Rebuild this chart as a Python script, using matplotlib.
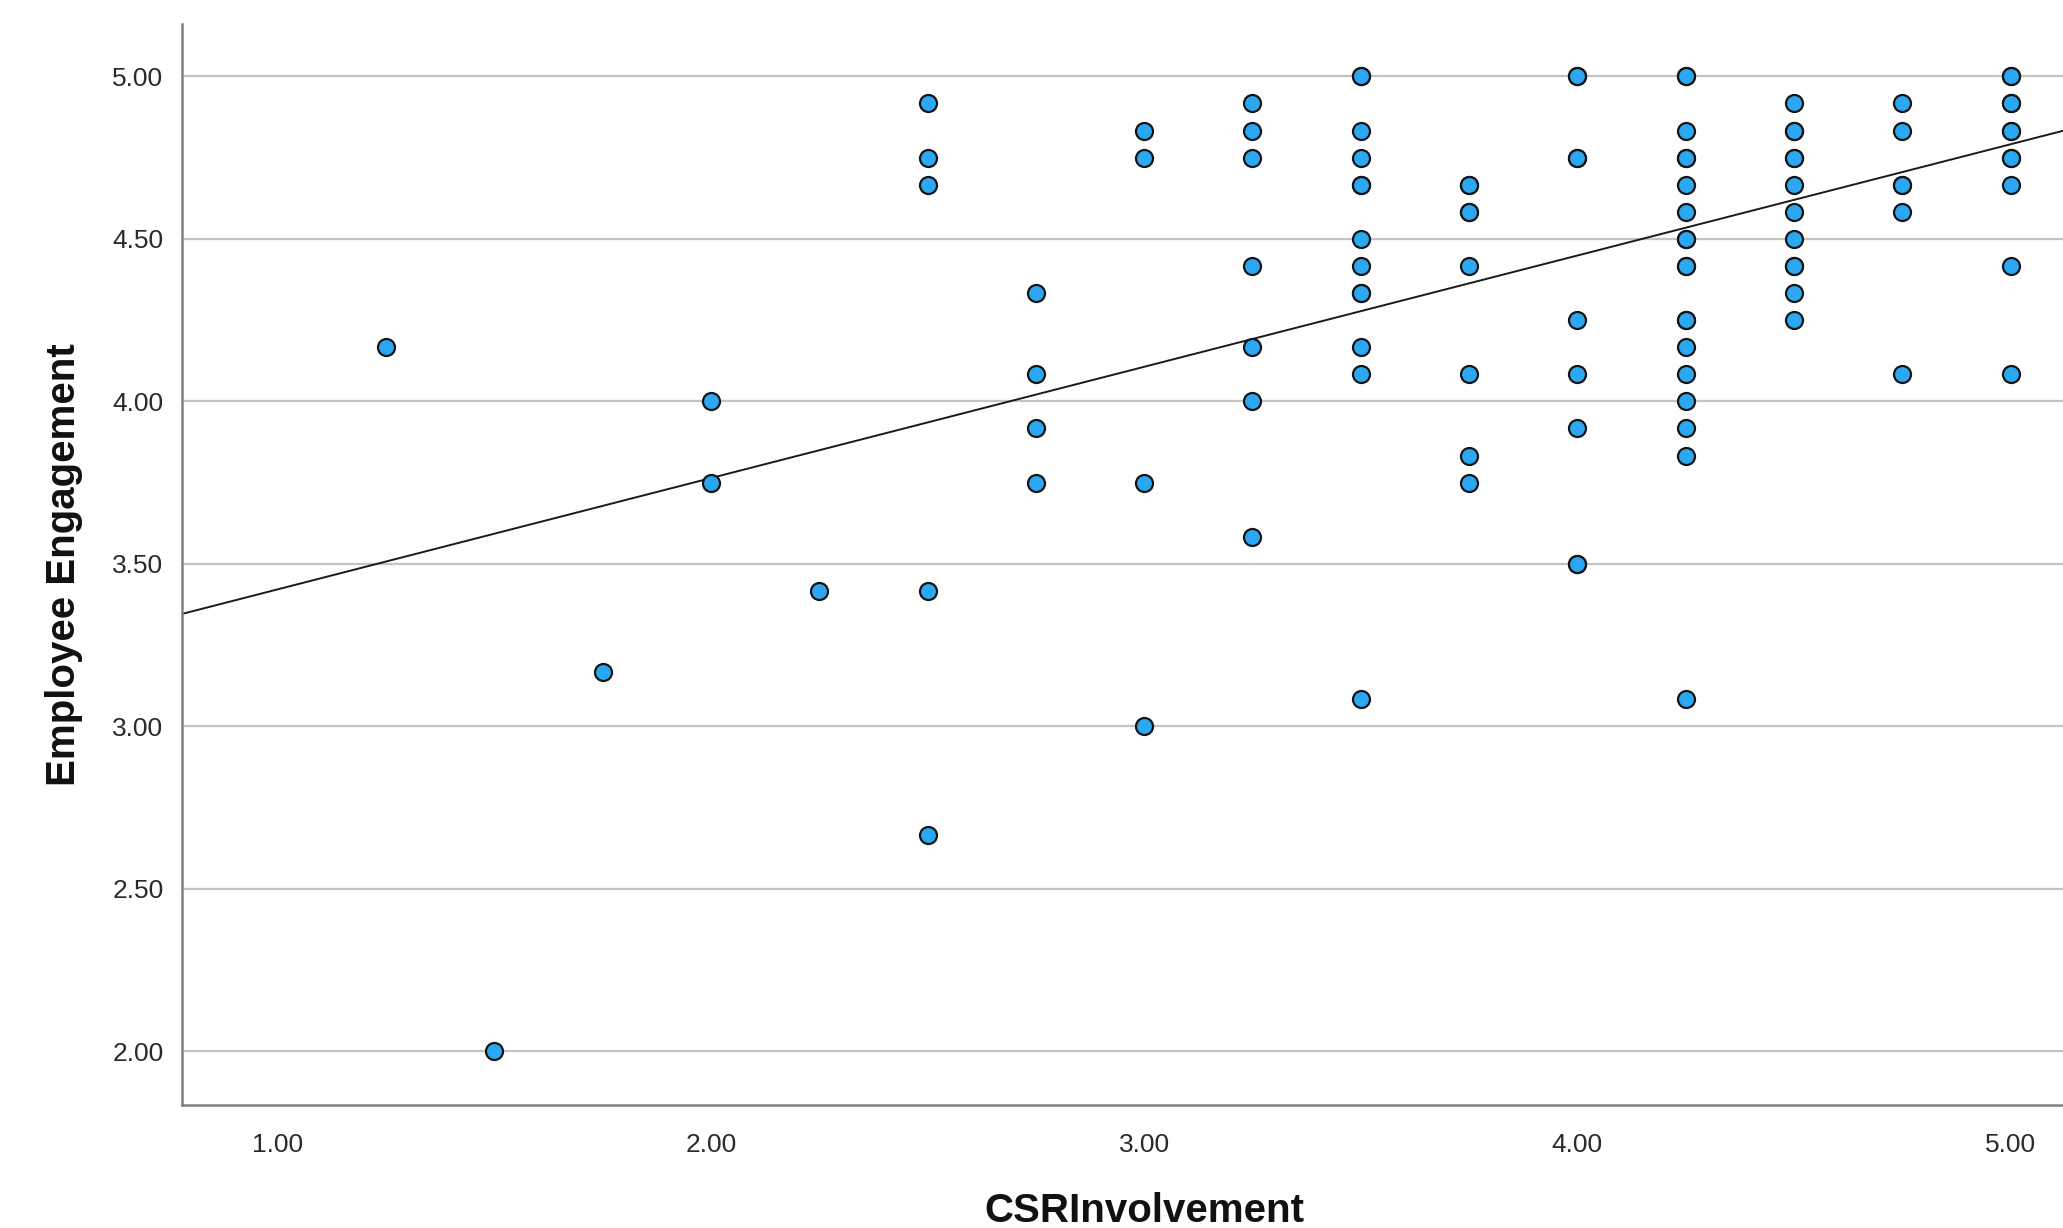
import numpy as np
import matplotlib.pyplot as plt

plt.rcParams['font.family'] = ['Liberation Sans', 'DejaVu Sans']

# CSR involvement levels (x) and the engagement scores seen at each level (y)
csr_levels = [1.25, 1.50, 1.75, 2.00, 2.25, 2.50, 2.75, 3.00, 3.25, 3.50,
              3.75, 4.00, 4.25, 4.50, 4.75, 5.00]
eng_by_level = [
    [4.167],
    [2.000],
    [3.167],
    [4.000, 3.750],
    [3.417],
    [4.917, 4.750, 4.667, 3.417, 2.667],
    [4.333, 4.083, 3.917, 3.750],
    [4.833, 4.750, 3.750, 3.000],
    [4.917, 4.833, 4.750, 4.417, 4.167, 4.000, 3.583],
    [5.000, 5.000, 4.833, 4.750, 4.667, 4.667, 4.500, 4.417, 4.333, 4.333,
     4.167, 4.083, 3.083],
    [4.667, 4.667, 4.583, 4.583, 4.417, 4.083, 3.833, 3.750],
    [5.000, 5.000, 4.750, 4.750, 4.250, 4.083, 3.917, 3.500, 3.500],
    [5.000, 5.000, 4.833, 4.750, 4.750, 4.667, 4.583, 4.500, 4.500, 4.417,
     4.417, 4.250, 4.250, 4.167, 4.083, 4.000, 3.917, 3.833, 3.083],
    [4.917, 4.833, 4.833, 4.750, 4.750, 4.667, 4.583, 4.500, 4.417, 4.417,
     4.333, 4.250],
    [4.917, 4.833, 4.667, 4.667, 4.583, 4.083],
    [5.000, 5.000, 4.917, 4.917, 4.833, 4.833, 4.750, 4.750, 4.667, 4.417,
     4.083],
]

# fit line
fit_slope = 0.3424
fit_intercept = 3.079

x_ticks = [1, 2, 3, 4, 5]
y_ticks = [2.0, 2.5, 3.0, 3.5, 4.0, 4.5, 5.0]

csr = np.concatenate([[lv] * len(ys) for lv, ys in zip(csr_levels, eng_by_level)])
eng = np.concatenate(eng_by_level)

fig = plt.figure(figsize=(20.63, 12.28), dpi=100)
ax = fig.add_axes([0.088, 0.100, 0.912, 0.8807])

xmin, xmax = 0.778, 5.121
ax.set_xlim(xmin, xmax)
ax.set_ylim(1.834, 5.162)

for y in y_ticks:
    ax.axhline(y, color='#c4c4c4', lw=1.6, zorder=0)

xl = np.array([xmin, xmax])
ax.plot(xl, fit_intercept + fit_slope * xl, color='#1a1a1a', lw=1.4, zorder=2)

ax.scatter(csr, eng, s=150, facecolor='#2ca7f2', edgecolor='#151515',
           linewidth=1.6, zorder=3)

ax.set_xticks(x_ticks)
ax.set_yticks(y_ticks)
ax.set_xticklabels(['%.2f' % v for v in x_ticks])
ax.set_yticklabels(['%.2f' % v for v in y_ticks])
ax.tick_params(axis='both', length=0, labelsize=19, colors='#2a2a2a')
ax.tick_params(axis='x', pad=20)
ax.tick_params(axis='y', pad=13)

for s in ['top', 'right']:
    ax.spines[s].set_visible(False)
for s in ['left', 'bottom']:
    ax.spines[s].set_color('#808080')
    ax.spines[s].set_linewidth(1.8)

ax.set_xlabel('CSRInvolvement', fontsize=29, fontweight='bold', color='#111111')
ax.set_ylabel('Employee Engagement', fontsize=29, fontweight='bold', color='#111111')
ax.xaxis.set_label_coords(0.512, -0.098)
ax.xaxis.label.set_va('center')
ax.yaxis.set_label_coords(-0.0625, 0.5)
ax.yaxis.label.set_va('center')

fig.savefig('out.png', dpi=100)
